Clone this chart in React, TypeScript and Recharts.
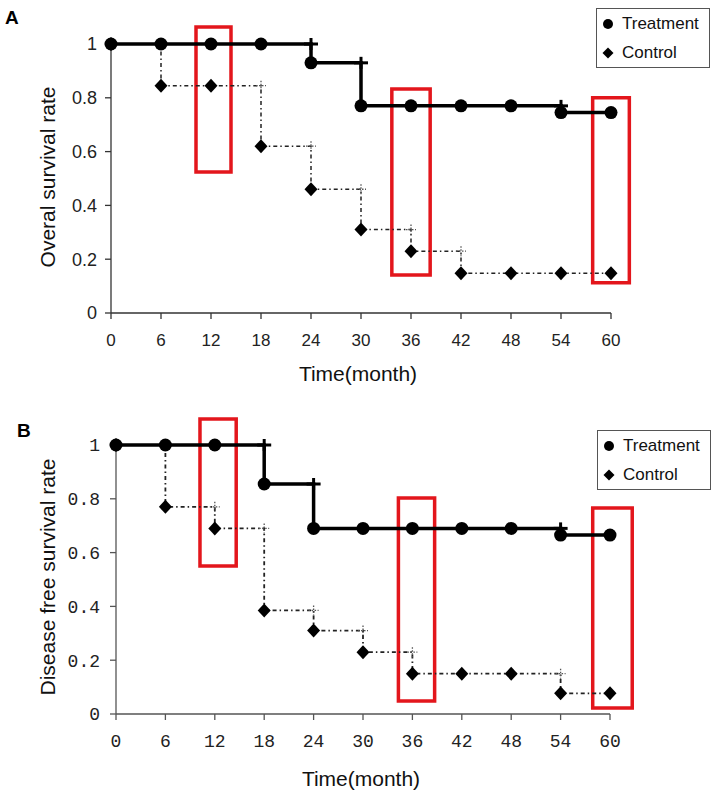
import React from "react";
import { ComposedChart, Line, Scatter, XAxis, YAxis, ReferenceArea, Legend } from "recharts";

// follow-up months (x axis ticks)
const months = [0, 6, 12, 18, 24, 30, 36, 42, 48, 54, 60];
const rateTicks = [0, 0.2, 0.4, 0.6, 0.8, 1];

// A: overall survival
const osTreatment = [1, 1, 1, 1, 0.93, 0.77, 0.77, 0.77, 0.77, 0.745, 0.745];
const osControl = [1, 0.845, 0.845, 0.62, 0.46, 0.31, 0.23, 0.148, 0.148, 0.148, 0.148];
// censor marks [month, rate]
const osTreatmentCensor = [[24, 1], [30, 0.93], [54, 0.77]];
const osControlCensor = [[18, 0.845], [24, 0.62], [30, 0.46], [36, 0.31], [42, 0.23]];
// red highlight boxes [x1, x2, y1, y2]
const osHighlights = [[10.2, 14.4, 0.524, 1.063], [33.7, 38.3, 0.141, 0.833], [57.8, 62.2, 0.112, 0.8]];

// B: disease free survival
const dfsTreatment = [1, 1, 1, 0.855, 0.69, 0.69, 0.69, 0.69, 0.69, 0.665, 0.665];
const dfsControl = [1, 0.77, 0.69, 0.385, 0.31, 0.23, 0.15, 0.15, 0.15, 0.077, 0.077];
const dfsTreatmentCensor = [[18, 1], [24, 0.855], [54, 0.69]];
const dfsControlCensor = [[12, 0.77], [18, 0.69], [24, 0.385], [30, 0.31], [36, 0.23], [54, 0.15]];
const dfsHighlights = [[10.2, 14.6, 0.55, 1.097], [34.3, 38.7, 0.048, 0.803], [57.9, 62.7, 0.022, 0.766]];

const RED = "#e3161c";

const toRows = (treat: number[], ctrl: number[]) =>
  months.map((t, i) => ({ t, treat: treat[i], ctrl: ctrl[i] }));
const toPts = (arr: number[][]) => arr.map(([t, v]) => ({ t, v }));

const circleDot = (p: any) =>
  p.cx == null ? null : <circle key={`c${p.index}`} cx={p.cx} cy={p.cy} r={6.5} fill="#000" />;

const diamondDot = (p: any) => {
  if (p.cx == null) return null;
  const { cx, cy } = p;
  return <path key={`d${p.index}`} d={`M${cx},${cy - 7} L${cx + 6.5},${cy} L${cx},${cy + 7} L${cx - 6.5},${cy} Z`} fill="#000" />;
};

const solidPlus = (p: any) => (
  <g>
    <line x1={p.cx - 7} x2={p.cx + 7} y1={p.cy} y2={p.cy} stroke="#000" strokeWidth={3} />
    <line x1={p.cx} x2={p.cx} y1={p.cy - 6} y2={p.cy + 6} stroke="#000" strokeWidth={3} />
  </g>
);

const dottedPlus = (p: any) => (
  <g>
    <line x1={p.cx - 5} x2={p.cx + 5} y1={p.cy} y2={p.cy} stroke="#555" strokeWidth={1.3} strokeDasharray="1.5 1.5" />
    <line x1={p.cx} x2={p.cx} y1={p.cy - 5} y2={p.cy + 5} stroke="#555" strokeWidth={1.3} strokeDasharray="1.5 1.5" />
  </g>
);

const LegendBox = ({ w, h }: { w: number; h: number }) => (
  <div
    style={{
      width: w, height: h, boxSizing: "border-box", border: "1.5px solid #555", background: "#fff",
      fontFamily: "Liberation Sans, Arial, sans-serif", fontSize: 17, color: "#111", position: "relative",
    }}
  >
    <svg width={14} height={h} style={{ position: "absolute", left: 4, top: 0 }}>
      <circle cx={7} cy={15} r={5} fill="#000" />
      <path d="M7,38.5 L12.5,44 L7,49.5 L1.5,44 Z" fill="#000" />
    </svg>
    <div style={{ position: "absolute", left: 25, top: 4, lineHeight: "22px" }}>Treatment</div>
    <div style={{ position: "absolute", left: 25, top: 33, lineHeight: "22px" }}>Control</div>
  </div>
);

type PanelProps = {
  top: number; height: number; plotTop: number; plotLeft: number; plotRight: number; plotBottom: number;
  treat: number[]; ctrl: number[]; treatCensor: number[][]; ctrlCensor: number[][]; boxes: number[][];
  tickFont: string; xTickSize: number; yTickSize: number; xTickMargin: number; yTickMargin: number;
  axisColor: string; ctrlWidth: number; legendLeft: number; legendTop: number;
};

function Panel(p: PanelProps) {
  const data = toRows(p.treat, p.ctrl);
  const xTick = { fill: "#222", fontSize: p.xTickSize, fontFamily: p.tickFont };
  const yTick = { fill: "#222", fontSize: p.yTickSize, fontFamily: p.tickFont };
  return (
    <div style={{ position: "absolute", left: 0, top: p.top }}>
      <ComposedChart
        width={716}
        height={p.height}
        data={data}
        margin={{ top: p.plotTop, right: 716 - p.plotRight, bottom: p.height - p.plotBottom - 40, left: 0 }}
      >
        <XAxis
          type="number" dataKey="t" domain={[0, 60]} ticks={months} height={40}
          axisLine={{ stroke: p.axisColor, strokeWidth: 1.3 }} tickLine={{ stroke: p.axisColor, strokeWidth: 1.3 }}
          tickSize={6} tickMargin={p.xTickMargin} tick={xTick} interval={0}
        />
        <YAxis
          type="number" domain={[0, 1]} ticks={rateTicks} width={p.plotLeft}
          axisLine={{ stroke: p.axisColor, strokeWidth: 1.3 }} tickLine={{ stroke: p.axisColor, strokeWidth: 1.3 }}
          tickSize={6} tickMargin={p.yTickMargin} tick={yTick} interval={0}
          tickFormatter={(v: number) => (v === 0 || v === 1 ? String(v) : v.toFixed(1))}
        />
        <Legend
          layout="horizontal" verticalAlign="middle" align="center"
          wrapperStyle={{ left: p.legendLeft, top: p.legendTop, width: "auto" }}
          content={() => <LegendBox w={114} h={60} />}
        />
        <Line
          name="Control" type="stepAfter" dataKey="ctrl" stroke="#222" strokeWidth={p.ctrlWidth}
          strokeDasharray="4 3 1.5 3" dot={diamondDot} activeDot={false} isAnimationActive={false}
        />
        <Scatter data={toPts(p.ctrlCensor)} dataKey="v" shape={dottedPlus} legendType="none" isAnimationActive={false} />
        <Line
          name="Treatment" type="stepAfter" dataKey="treat" stroke="#000" strokeWidth={3.5}
          dot={circleDot} activeDot={false} isAnimationActive={false}
        />
        <Scatter data={toPts(p.treatCensor)} dataKey="v" shape={solidPlus} legendType="none" isAnimationActive={false} />
        {p.boxes.map(([x1, x2, y1, y2], i) => (
          <ReferenceArea
            key={i} x1={x1} x2={x2} y1={y1} y2={y2} ifOverflow="visible"
            fill="none" stroke={RED} strokeWidth={3.5}
          />
        ))}
      </ComposedChart>
    </div>
  );
}

const titleFont: React.CSSProperties = {
  position: "absolute", fontFamily: "Liberation Sans, Arial, sans-serif", fontSize: 21, color: "#111",
  whiteSpace: "nowrap", transform: "translate(-50%, -50%)", lineHeight: 1,
};
const letterFont: React.CSSProperties = {
  position: "absolute", fontFamily: "Liberation Sans, Arial, sans-serif", fontSize: 19, fontWeight: "bold", color: "#000", lineHeight: 1,
};

export default function App() {
  return (
    <div style={{ position: "absolute", left: 0, top: 0, width: 716, height: 795, background: "#fff", overflow: "hidden" }}>
      <Panel
        top={0} height={390} plotTop={44} plotLeft={111} plotRight={611} plotBottom={313}
        treat={osTreatment} ctrl={osControl} treatCensor={osTreatmentCensor} ctrlCensor={osControlCensor} boxes={osHighlights}
        tickFont="Liberation Sans, Arial, sans-serif" xTickSize={17} yTickSize={18} xTickMargin={15} yTickMargin={8}
        axisColor="#333" ctrlWidth={1.5} legendLeft={596} legendTop={8}
      />
      <Panel
        top={390} height={405} plotTop={55} plotLeft={116} plotRight={610} plotBottom={324}
        treat={dfsTreatment} ctrl={dfsControl} treatCensor={dfsTreatmentCensor} ctrlCensor={dfsControlCensor} boxes={dfsHighlights}
        tickFont="Liberation Mono, monospace" xTickSize={18} yTickSize={18} xTickMargin={14} yTickMargin={10}
        axisColor="#555" ctrlWidth={1.8} legendLeft={597} legendTop={40}
      />
      <div style={{ ...letterFont, left: 5, top: 8 }}>A</div>
      <div style={{ ...letterFont, left: 17, top: 421 }}>B</div>
      <div style={{ ...titleFont, left: 47, top: 177, transform: "translate(-50%, -50%) rotate(-90deg)" }}>Overal survival rate</div>
      <div style={{ ...titleFont, left: 358, top: 373 }}>Time(month)</div>
      <div style={{ ...titleFont, left: 47, top: 577, transform: "translate(-50%, -50%) rotate(-90deg)" }}>Disease free survival rate</div>
      <div style={{ ...titleFont, left: 361, top: 778 }}>Time(month)</div>
    </div>
  );
}
